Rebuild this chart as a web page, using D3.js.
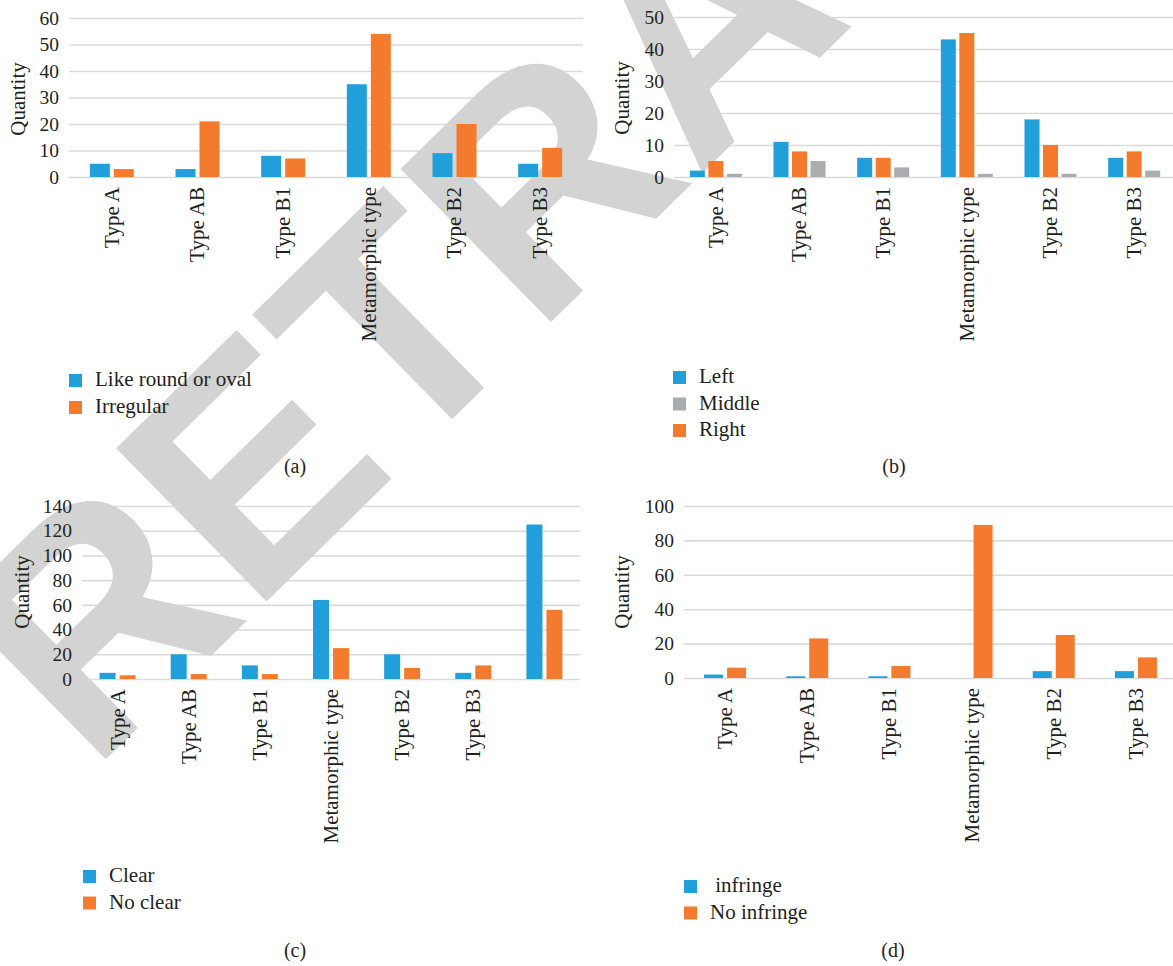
<!DOCTYPE html>
<html>
<head>
<meta charset="utf-8">
<script src="https://cdn.jsdelivr.net/npm/d3@7"></script>
<style>
  html, body { margin: 0; padding: 0; background: #ffffff; }
  svg { display: block; }
  text { font-family: "Liberation Serif", "Times New Roman", serif; fill: #231f20; }
</style>
</head>
<body>
<svg id="chart" width="1173" height="966"></svg>
<script>
// ---- data ----
const categories = ["Type A", "Type AB", "Type B1", "Metamorphic type", "Type B2", "Type B3"];
const categoriesC = ["Type A", "Type AB", "Type B1", "Metamorphic type", "Type B2", "Type B3", ""];

// (a) shape
const shapeRound = [5, 3, 8, 35, 9, 5];
const shapeIrregular = [3, 21, 7, 54, 20, 11];

// (b) location
const locLeft = [2, 11, 6, 43, 18, 6];
const locRight = [5, 8, 6, 45, 10, 8];
const locMiddle = [1, 5, 3, 1, 1, 2];

// (c) boundary (last column is the total)
const boundaryClear = [5, 20, 11, 64, 20, 5, 125];
const boundaryNoClear = [3, 4, 4, 25, 9, 11, 56];

// (d) invasion
const infringe = [2, 1, 1, 0, 4, 4];
const noInfringe = [6, 23, 7, 89, 25, 12];

const ticksA = [0, 10, 20, 30, 40, 50, 60];
const ticksB = [0, 10, 20, 30, 40, 50];
const ticksC = [0, 20, 40, 60, 80, 100, 120, 140];
const ticksD = [0, 20, 40, 60, 80, 100];

// ---- styles ----
const BLUE = "#219fda", ORANGE = "#f47b2d", GRAY = "#abacb0";
const GRID = "#dadada", WATERMARK = "#d3d3d3";

const panels = [
  {
    cats: categories, ticks: ticksA, max: 60,
    x: [69, 583], y: [177, 18], barW: 20, gap: 4,
    series: [
      { name: "Like round or oval", values: shapeRound, color: BLUE },
      { name: "Irregular", values: shapeIrregular, color: ORANGE }
    ],
    legendOrder: [0, 1], legend: { x: 69, y: 374, step: 27 },
    caption: { text: "(a)", x: 295, y: 473 }, quantity: { x: 18, y: 99 }
  },
  {
    cats: categories, ticks: ticksB, max: 50,
    x: [674, 1176], y: [177, 17], barW: 15, gap: 3.5,
    series: [
      { name: "Left", values: locLeft, color: BLUE },
      { name: "Right", values: locRight, color: ORANGE },
      { name: "Middle", values: locMiddle, color: GRAY }
    ],
    legendOrder: [0, 2, 1], legend: { x: 673, y: 371, step: 26.5 },
    caption: { text: "(b)", x: 894, y: 473 }, quantity: { x: 622, y: 98 }
  },
  {
    cats: categoriesC, ticks: ticksC, max: 140,
    x: [82, 580], y: [679, 506], barW: 16, gap: 4,
    series: [
      { name: "Clear", values: boundaryClear, color: BLUE },
      { name: "No clear", values: boundaryNoClear, color: ORANGE }
    ],
    legendOrder: [0, 1], legend: { x: 83, y: 870, step: 26.5 },
    caption: { text: "(c)", x: 295, y: 957 }, quantity: { x: 22, y: 592 }
  },
  {
    cats: categories, ticks: ticksD, max: 100,
    x: [684, 1177], y: [678, 506], barW: 19, gap: 4,
    series: [
      { name: " infringe", values: infringe, color: BLUE },
      { name: "No infringe", values: noInfringe, color: ORANGE }
    ],
    legendOrder: [0, 1], legend: { x: 684, y: 880, step: 26.5 },
    caption: { text: "(d)", x: 893, y: 957 }, quantity: { x: 622, y: 592 }
  }
];

const svg = d3.select("#chart");
const gridLayer = svg.append("g");
const stampLayer = svg.append("g");
const markLayer = svg.append("g");

panels.forEach(p => {
  const x = d3.scaleBand().domain(p.cats).range(p.x).padding(0);
  const y = d3.scaleLinear().domain([0, p.max]).range(p.y);
  const n = p.series.length;
  const groupW = n * p.barW + (n - 1) * p.gap;
  const xs = d3.scaleBand().domain(d3.range(n))
    .range([0, groupW]).paddingInner(p.gap / (p.barW + p.gap)).paddingOuter(0);

  // horizontal gridlines
  const gAxisGrid = gridLayer.append("g")
    .attr("transform", `translate(${p.x[0]},0)`)
    .call(d3.axisLeft(y).tickValues(p.ticks).tickSize(-(p.x[1] - p.x[0])).tickFormat(""));
  gAxisGrid.select(".domain").remove();
  gAxisGrid.selectAll(".tick line").attr("stroke", GRID).attr("stroke-width", 1.6);

  // value labels
  const gAxisY = markLayer.append("g")
    .attr("transform", `translate(${p.x[0]},0)`)
    .call(d3.axisLeft(y).tickValues(p.ticks).tickSize(0).tickPadding(10));
  gAxisY.select(".domain").remove();
  gAxisY.selectAll(".tick text")
    .attr("font-family", null)
    .style("font-size", "19.5px")
    .attr("fill", "#231f20");

  // bars
  p.series.forEach((s, i) => {
    markLayer.append("g").selectAll("rect")
      .data(p.cats.map((c, k) => ({ c, v: s.values[k] })))
      .join("rect")
      .attr("x", d => x(d.c) + x.bandwidth() / 2 - groupW / 2 + xs(i))
      .attr("width", xs.bandwidth())
      .attr("y", d => y(d.v))
      .attr("height", d => y(0) - y(d.v))
      .attr("fill", s.color);
  });

  // category labels
  const gAxisX = markLayer.append("g")
    .attr("transform", `translate(0,${p.y[0]})`)
    .call(d3.axisBottom(x).tickSize(0));
  gAxisX.select(".domain").remove();
  gAxisX.selectAll(".tick text")
    .attr("font-family", null)
    .style("font-size", "21px")
    .attr("fill", "#231f20")
    .attr("transform", "rotate(-90)")
    .attr("x", -10)
    .attr("y", 0)
    .attr("dy", "0.33em")
    .style("text-anchor", "end");

  // axis title
  markLayer.append("text")
    .attr("transform", `translate(${p.quantity.x},${p.quantity.y}) rotate(-90)`)
    .attr("text-anchor", "middle")
    .attr("dy", "0.33em")
    .style("font-size", "21px")
    .text("Quantity");

  // legend
  const lg = markLayer.append("g");
  p.legendOrder.forEach((si, r) => {
    const s = p.series[si];
    const top = p.legend.y + r * p.legend.step;
    lg.append("rect")
      .attr("x", p.legend.x).attr("y", top)
      .attr("width", 13).attr("height", 13)
      .attr("fill", s.color);
    lg.append("text")
      .attr("x", p.legend.x + 26).attr("y", top + 12)
      .style("font-size", "21px")
      .style("white-space", "pre")
      .text(s.name);
  });

  // panel caption
  markLayer.append("text")
    .attr("x", p.caption.x).attr("y", p.caption.y)
    .attr("text-anchor", "middle")
    .style("font-size", "20px")
    .text(p.caption.text);
});

// diagonal stamp across the figure
stampLayer.append("text")
  .attr("transform", "translate(91,774) rotate(-44.5)")
  .style("font-family", "'Liberation Sans', Arial, sans-serif")
  .style("font-weight", "bold")
  .style("font-size", "312px")
  .style("fill", WATERMARK)
  .text("RETRACTED");
</script>
</body>
</html>
